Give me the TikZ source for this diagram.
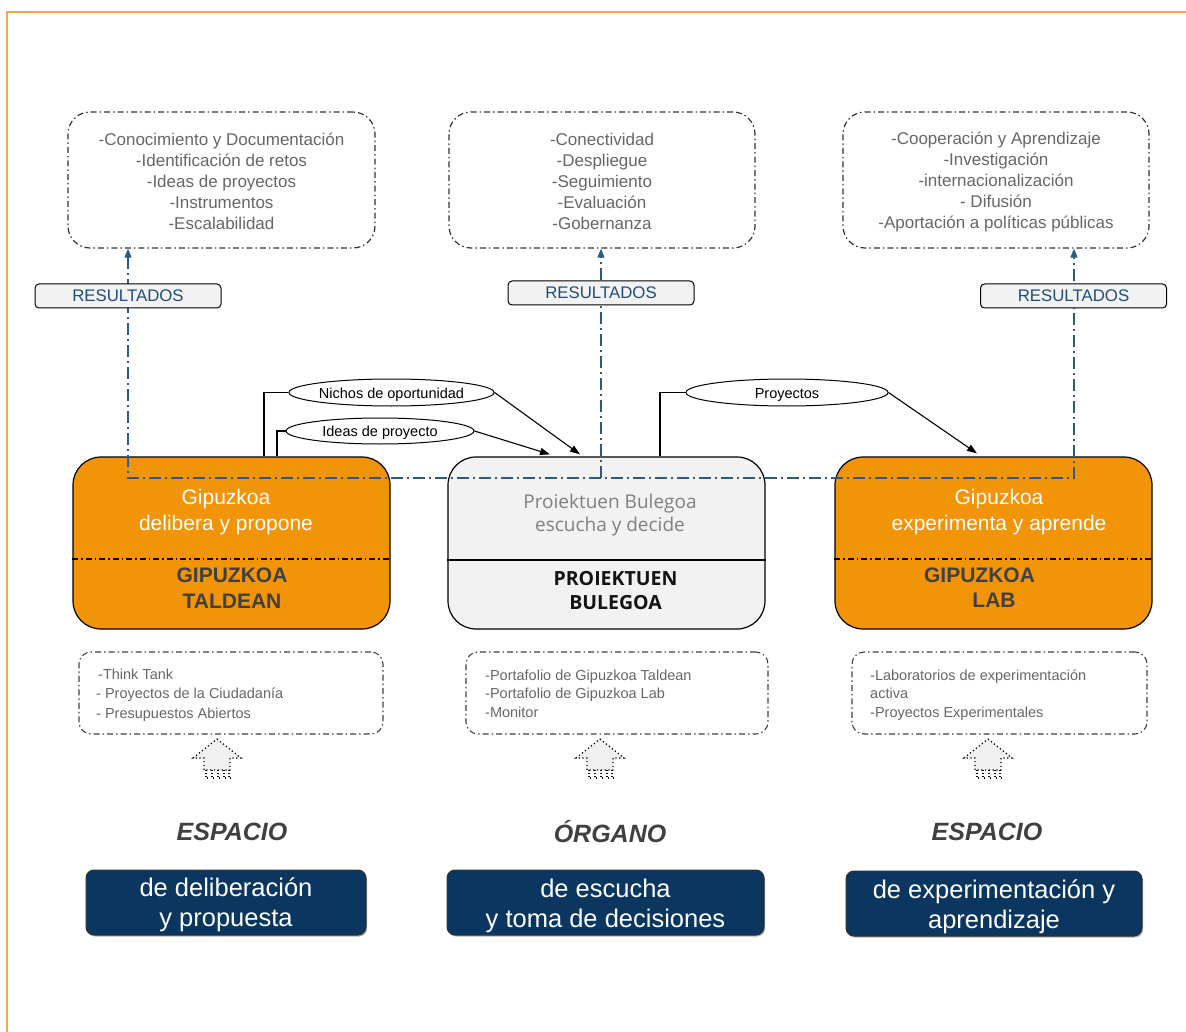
\documentclass[tikz,border=0pt]{standalone}
\usepackage{fontspec}
\setmainfont{Liberation Sans}
\newfontfamily\opensans{Open Sans}
\usetikzlibrary{shapes.geometric,arrows.meta,shadows}
\definecolor{frameor}{HTML}{F5A54A}
\definecolor{orbox}{HTML}{F29407}
\definecolor{navy}{HTML}{0A365F}
\definecolor{resblue}{HTML}{1F4E79}
\definecolor{lnblue}{HTML}{2D5985}
\definecolor{txtgray}{HTML}{666666}
\definecolor{boldgray}{HTML}{404040}
\definecolor{lightg}{HTML}{F2F2F2}
\begin{document}
\begin{tikzpicture}[x=1pt,y=-1pt,
  frameline/.style={draw=frameor,line width=1.5pt},
  topbox/.style={draw=black!80,line width=1.2pt,dash pattern=on 6pt off 3pt on 1.5pt off 3pt,rounded corners=22pt,minimum width=307pt,minimum height=136pt,inner sep=0pt},
  toptext/.style={align=center,text=txtgray,inner sep=0pt,font=\fontsize{17}{21}\selectfont},
  resbox/.style={draw=black,line width=1pt,fill=lightg,rounded corners=4pt,minimum width=186pt,minimum height=24pt,inner sep=0pt,text=resblue,font=\fontsize{16.8}{16.8}\selectfont},
  bline/.style={draw=lnblue,line width=1.3pt,dash pattern=on 12pt off 4pt on 2pt off 4pt},
  btip/.style={-{Triangle[length=9pt,width=7pt]}},
  obox/.style={draw=black,line width=1.2pt,fill=orbox,rounded corners=28pt,minimum width=317pt,minimum height=172pt,inner sep=0pt},
  gbox/.style={obox,fill=lightg},
  odiv/.style={draw=black,line width=1.3pt,dash pattern=on 6pt off 3pt on 1.5pt off 3pt},
  otext/.style={text=white,align=center,font=\fontsize{21}{26}\selectfont},
  obold/.style={text=boldgray,align=center,font=\fontsize{21}{26}\selectfont\bfseries},
  ell/.style={ellipse,draw=black,line width=1pt,fill=white,inner sep=0pt,minimum height=27pt,text height=14pt,text depth=3pt,font=\fontsize{14.5}{14.5}\selectfont},
  conn/.style={draw=black,line width=1.1pt},
  ctip/.style={-{Triangle[length=10pt,width=7pt]}},
  lbox/.style={draw=black!75,line width=1.1pt,dash pattern=on 6pt off 3pt on 1.5pt off 3pt,rounded corners=12pt,minimum height=82pt,inner sep=0pt},
  ltext/.style={anchor=west,align=left,text=txtgray,inner sep=0pt,font=\fontsize{14.5}{18.5}\selectfont},
  dotarrow/.style={draw=black,line width=1.3pt,dash pattern=on 1.2pt off 2.6pt,fill=black!6},
  esp/.style={text=boldgray,font=\fontsize{25}{25}\selectfont\bfseries\itshape},
  bbox/.style={draw=black!80,line width=1pt,fill=navy,rounded corners=8pt,minimum height=65pt,inner sep=0pt,drop shadow={shadow xshift=1pt,shadow yshift=-1.5pt,fill=black!50,opacity=0.6}},
  btext/.style={text=white,align=center,inner sep=0pt,font=\fontsize{25.5}{30}\selectfont}
]
\useasboundingbox (0,0) rectangle (1186,1032);
% frame
\draw[frameline] (7,1032) -- (7,12) -- (1186,12);

% top result boxes
\node[topbox] (tL) at (221.5,180) {};
\node[topbox,minimum width=306pt] (tM) at (602,180) {};
\node[topbox,minimum width=306pt] (tR) at (996,180) {};
\node[toptext] (tLt) at (221.5,181) {-Conocimiento y Documentación\\-Identificación de retos\\-Ideas de proyectos\\-Instrumentos\\-Escalabilidad};
\node[toptext] (tMt) at (602,181) {-Conectividad\\-Despliegue\\-Seguimiento\\-Evaluación\\-Gobernanza};
\node[toptext] (tRt) at (996,182.5) {-Cooperación y Aprendizaje\\-Investigación\\-internacionalización\\- Difusión\\-Aportación a políticas públicas};

% main boxes
\node[obox] (oL) at (231.5,543) {};
\node[gbox] (oM) at (606.5,543) {};
\node[obox] (oR) at (993.5,543) {};

\draw[odiv] ([yshift=-16pt]oL.west) -- ([yshift=-16pt]oL.east);
\draw[conn,line width=1.3pt] ([yshift=-17pt]oM.west) -- ([yshift=-17pt]oM.east);
\draw[odiv] ([yshift=-16pt]oR.west) -- ([yshift=-16pt]oR.east);

\node[otext] (oLt) at (226,512) {Gipuzkoa\\delibera y propone};
\node[obold] (oLb) at (232,588) {GIPUZKOA\\TALDEAN};
\node[text=black!50,align=center,font=\opensans\fontsize{19}{23}\selectfont] (oMt) at (610,515.5) {Proiektuen Bulegoa\\escucha y decide};
\node[text=black!92,align=center,font=\opensans\fontsize{19.5}{24}\selectfont\bfseries] (oMb) at (615.5,591) {PROIEKTUEN\\BULEGOA};
\node[otext] (oRt) at (999,512) {Gipuzkoa\\experimenta y aprende};
\node[obold] (oRb1) at (979.5,575) {GIPUZKOA};
\node[obold] (oRb2) at (994,600) {LAB};

% blue result lines
\coordinate (jL) at (128,478);
\coordinate (jM) at (601,478);
\coordinate (jR) at (1074,478);
\draw[bline,{Triangle[length=9pt,width=7pt]}-{Triangle[length=9pt,width=7pt]}] (jL |- tL.south) -- (jL) -- (jR) -- (jR |- tR.south);
\draw[bline,btip] (jM) -- (jM |- tM.south);

\node[resbox] (rL) at (128,296) {RESULTADOS};
\node[resbox] (rM) at (601,293) {RESULTADOS};
\node[resbox] (rR) at (1073.5,296) {RESULTADOS};

% ellipses and connectors
\node[ell,minimum width=203pt] (nichos) at (391.5,392.5) {Nichos de oportunidad};
\node[ell,minimum width=188pt,minimum height=26pt] (ideas) at (380,431) {Ideas de proyecto};
\node[ell,minimum width=202pt] (proy) at (787,392.5) {Proyectos};

\draw[conn] ([xshift=32.5pt]oL.north) |- (nichos.west);
\draw[conn] ([xshift=45.5pt]oL.north) |- (ideas.west);
\draw[conn,ctip] (nichos.east) -- ([xshift=-26.5pt,yshift=2pt]oM.north);
\draw[conn,ctip] (ideas.east) -- ([xshift=-56.5pt,yshift=2pt]oM.north);
\draw[conn] ([xshift=53.5pt]oM.north) |- (proy.west);
\draw[conn,ctip] (proy.east) -- ([xshift=-16.5pt,yshift=3pt]oR.north);

% lists
\node[lbox,minimum width=304pt] (lL) at (231,693) {};
\node[lbox,minimum width=302pt] (lM) at (617,693) {};
\node[lbox,minimum width=295pt] (lR) at (999.5,693) {};
\node[ltext] (lLt) at (96,695) {\hspace{2pt}-Think Tank\\- Proyectos de la Ciudadanía\\[1.5pt]- Presupuestos Abiertos};
\node[ltext] (lMt) at (485,693.5) {-Portafolio de Gipuzkoa Taldean\\-Portafolio de Gipuzkoa Lab\\-Monitor};
\node[ltext] (lRt) at (870,695) {-Laboratorios de experimentación\\activa\\-Proyectos Experimentales};

% dotted up arrows
\foreach \n/\x in {aL/217,aM/600,aR/988}{
  \coordinate (\n) at (\x,739);
  \draw[dotarrow] (\n) -- ++(24,19) -- ++(-11,0) -- ++(0,12) -- ++(-26,0) -- ++(0,-12) -- ++(-11,0) -- cycle;
  \foreach \d in {-11,-5,1,7,12}{
    \draw[black,line width=1.2pt,dash pattern=on 1.2pt off 1.8pt] ([xshift=\d pt,yshift=-31pt]\n) -- ++(0,8) -- ++(2,0);
  }
}

% labels
\node[esp] (espL) at (232,832) {ESPACIO};
\node[esp] (org) at (610,832) {ÓRGANO};
\node[esp] (espR) at (987,832) {ESPACIO};

\node[bbox,minimum width=280pt] (bL) at (226,902.5) {};
\node[bbox,minimum width=317pt] (bM) at (605.5,902.5) {};
\node[bbox,minimum width=296pt] (bR) at (994,903.5) {};
\node[btext] (bLt) at (226,904.5) {de deliberación\\y propuesta};
\node[btext] (bMt) at (605.5,905.5) {de escucha\\y toma de decisiones};
\node[btext] (bRt) at (994,906.5) {de experimentación y\\aprendizaje};
\end{tikzpicture}
\end{document}
